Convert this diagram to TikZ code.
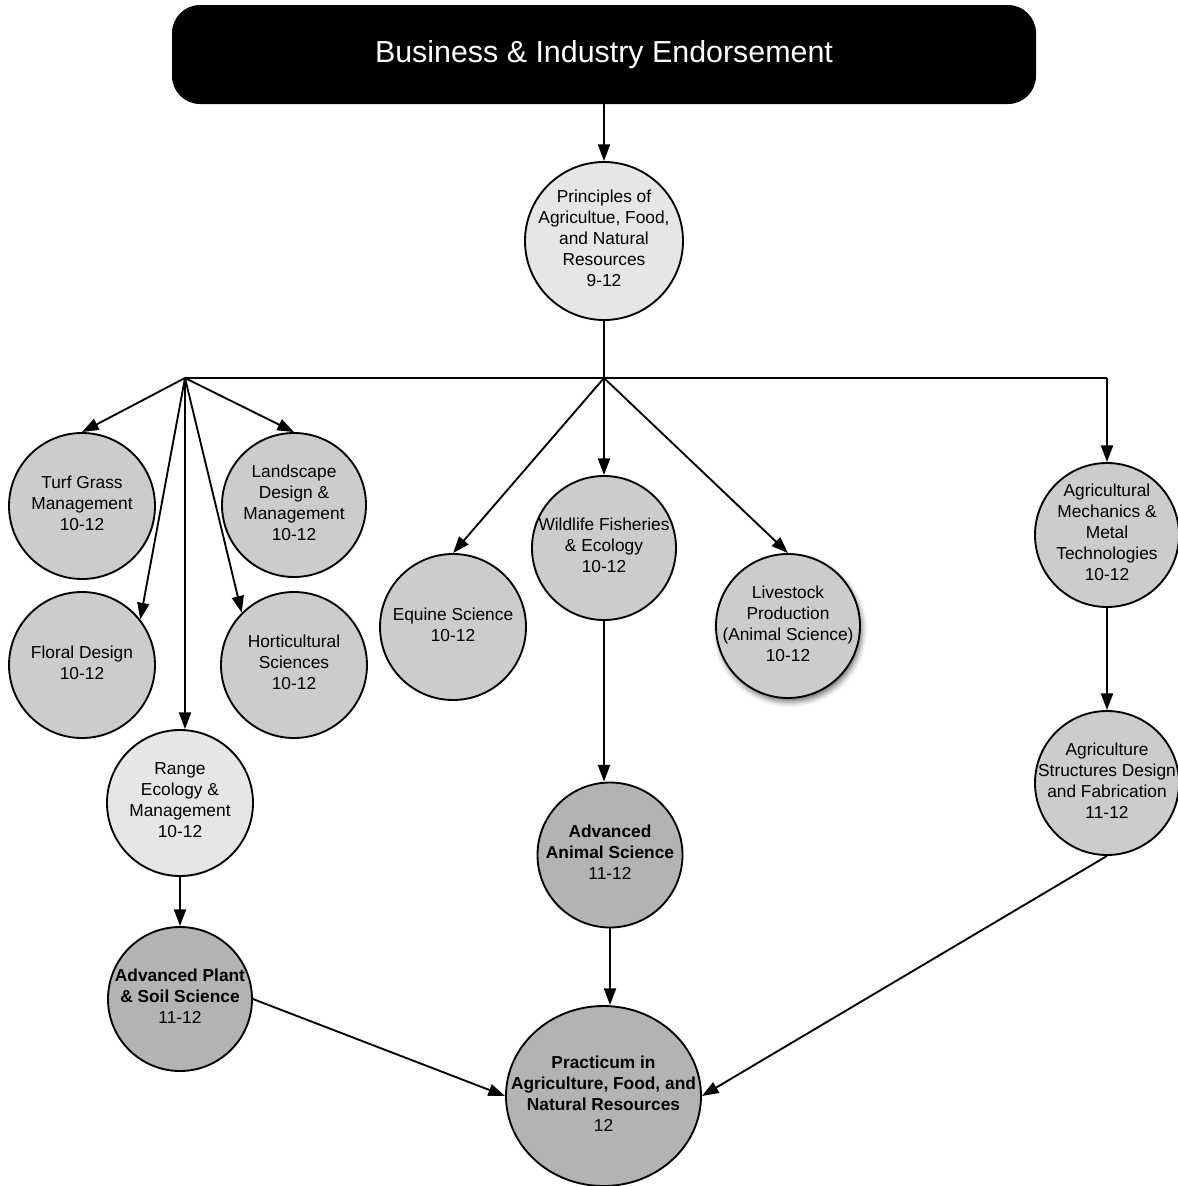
\documentclass[tikz,border=0pt]{standalone}
\usepackage{fontspec}
\setmainfont{Liberation Sans}
\usetikzlibrary{arrows.meta,shapes.geometric,shadows.blur}

\definecolor{lightfill}{HTML}{E6E6E6}
\definecolor{midfill}{HTML}{CCCCCC}
\definecolor{darkfill}{HTML}{B3B3B3}

\tikzset{
  course/.style={circle, draw=black, line width=1.4pt, fill=midfill,
    inner sep=0pt, minimum size=109.5pt},
  lbl/.style={align=center, inner sep=0pt, yshift=1.8pt,
    font=\fontsize{13}{15.75}\selectfont},
  conn/.style={line width=1.4pt, draw=black},
  arr/.style={conn, -{Triangle[length=12.5pt,width=9pt]}},
  headbox/.style={rectangle, rounded corners=21pt, fill=black,
    minimum width=648pt, minimum height=74.25pt, inner sep=0pt,
    text=white, font=\fontsize{22.8}{27}\selectfont}
}

\begin{document}
\begin{tikzpicture}[x=0.75pt,y=-0.75pt]
\useasboundingbox (0,0) rectangle (1178,1186);

% heading
\node[headbox] (title) at (604,54.5) {Business \& Industry Endorsement};

% first course
\node[course, fill=lightfill, minimum size=118.5pt,
  label={[lbl]center:{Principles of\\Agricultue, Food,\\and Natural\\Resources\\9-12}}]
  (prin) at (604,241) {};

% plant pathway
\node[course, label={[lbl]center:{Turf Grass\\Management\\10-12}}] (turf) at (82,506) {};
\node[course, minimum size=108pt, label={[lbl]center:{Landscape\\Design \&\\Management\\10-12}}] (land) at (294,505) {};
\node[course, label={[lbl]center:{Floral Design\\10-12}}] (floral) at (82,665) {};
\node[course, label={[lbl]center:{Horticultural\\Sciences\\10-12}}] (hort) at (294,665) {};
\node[course, fill=lightfill, label={[lbl]center:{Range\\Ecology \&\\Management\\10-12}}] (rng) at (180,803) {};
\node[course, fill=darkfill, minimum size=108pt,
  label={[lbl]center:{\textbf{Advanced Plant}\\\textbf{\& Soil Science}\\11-12}}] (advplant) at (180,999) {};

% animal pathway
\node[course, label={[lbl]center:{Equine Science\\10-12}}] (equine) at (453,627) {};
\node[course, minimum size=108pt, label={[lbl]center:{Wildlife Fisheries\\\& Ecology\\10-12}}] (wild) at (604,548) {};
\node[course, minimum size=108pt,
  blur shadow={shadow xshift=1.5pt, shadow yshift=-3pt, shadow blur radius=4pt, shadow opacity=55},
  label={[lbl]center:{Livestock\\Production\\(Animal Science)\\10-12}}] (live) at (788,626) {};
\node[course, fill=darkfill, minimum size=108.75pt,
  label={[lbl]center:{\textbf{Advanced}\\\textbf{Animal Science}\\11-12}}] (advanim) at (610,855) {};

% mechanics pathway
\node[course, minimum size=108pt, label={[lbl]center:{Agricultural\\Mechanics \&\\Metal\\Technologies\\10-12}}] (agmech) at (1107,535) {};
\node[course, minimum size=108pt, label={[lbl]center:{Agriculture\\Structures Design\\and Fabrication\\11-12}}] (agstr) at (1107,783) {};

% capstone
\node[ellipse, draw=black, line width=1.4pt, fill=darkfill, inner sep=0pt,
  minimum width=146.25pt, minimum height=135pt,
  label={[lbl]center:{\textbf{Practicum in}\\\textbf{Agriculture, Food, and}\\\textbf{Natural Resources}\\12}}]
  (prac) at (603.5,1096) {};

% branching rail
\coordinate (jl) at (185,378);
\coordinate (jc) at (604,378);
\coordinate (jr) at (1107,378);

\draw[arr] (title.south) -- (prin.north);
\draw[conn] (prin.south) -- (jc);
\draw[conn] (jl) -- (jr);

\draw[arr] (jl) -- (turf.north);
\draw[arr] (jl) -- (land.north);
\draw[arr] (jl) -- (floral.38);
\draw[arr] (jl) -- (hort.135);
\draw[arr] (jl) -- (jl |- rng.north);

\draw[arr] (jc) -- (equine.north);
\draw[arr] (jc) -- (wild.north);
\draw[arr] (jc) -- (live.north);

\draw[arr] (jr) -- (agmech.north);
\draw[arr] (agmech.south) -- (agstr.north);

\draw[arr] (rng.south) -- (advplant.north);
\draw[arr] (wild.south) -- (wild.south |- advanim.north);
\draw[arr] (advanim.south) -- (advanim.south |- prac.north);

\draw[arr] (advplant.east) -- (prac.west);
\draw[arr] (agstr.south) -- (prac.east);
\end{tikzpicture}
\end{document}
